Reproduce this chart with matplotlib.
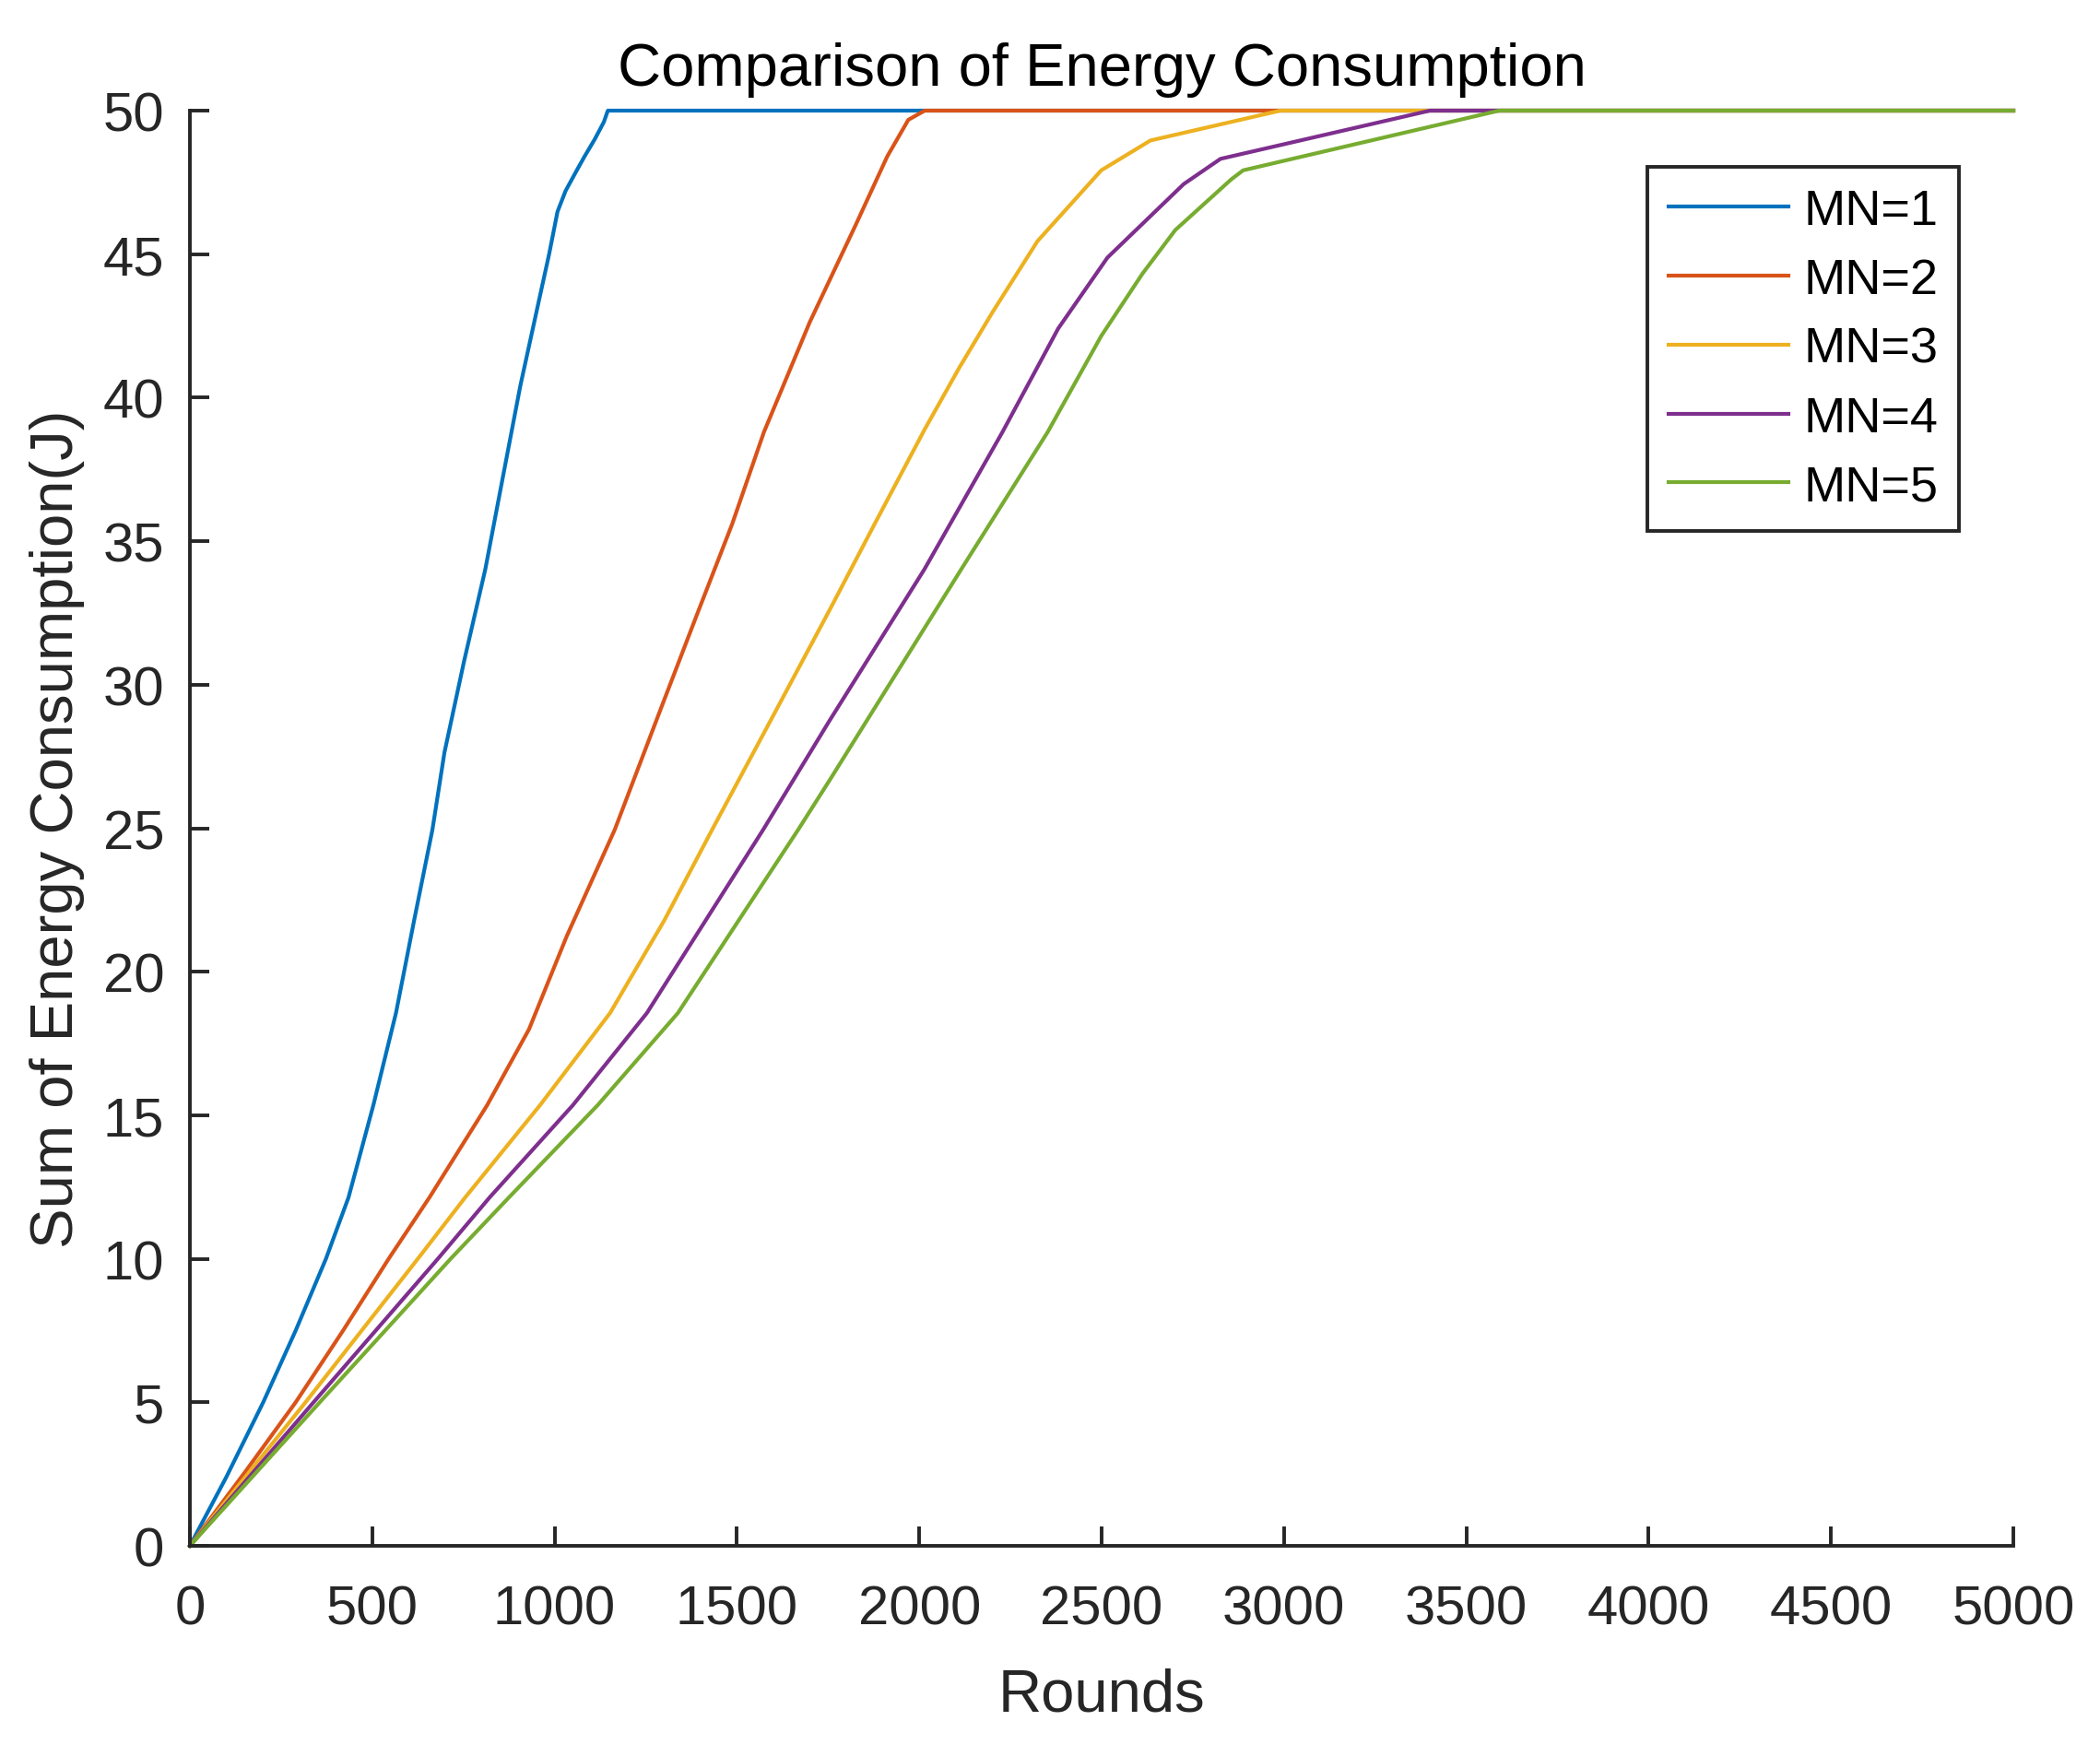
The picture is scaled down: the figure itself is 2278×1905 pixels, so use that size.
import matplotlib
matplotlib.use('Agg')
import matplotlib.pyplot as plt

plt.rcParams['font.family'] = ['Liberation Sans', 'DejaVu Sans']

# ------------------------- data -------------------------
labels = ['MN=1', 'MN=2', 'MN=3', 'MN=4', 'MN=5']
colors = ['#0072BD', '#D95319', '#EDB120', '#7E2F8E', '#77AC30']

mn1_rounds = [0, 100, 201, 290, 373, 435, 503, 565, 615, 665, 698, 752, 810, 858, 906,
              961, 985, 1008, 1030, 1060, 1082, 1110, 1135, 1146, 5000]
mn1_energy = [0, 2.4, 5, 7.5, 10, 12.14, 15.35, 18.56, 21.8, 24.95, 27.64, 30.83, 34.02, 37.22, 40.41,
              43.61, 45.0, 46.48, 47.2, 47.9, 48.4, 49.0, 49.6, 50, 50]

mn2_rounds = [0, 150, 290, 420, 545, 657, 815, 930, 1033, 1165, 1293, 1390, 1487, 1574,
              1700, 1825, 1912, 1970, 2015, 5000]
mn2_energy = [0, 2.55, 5, 7.5, 10, 12.14, 15.35, 18.0, 21.23, 24.95, 29.22, 32.43, 35.6, 38.8,
              42.64, 46.0, 48.4, 49.68, 50, 50]

mn3_rounds = [0, 317, 625, 755, 960, 1152, 1300, 1432, 1612, 1754, 1878, 2015, 2110, 2200,
              2324, 2499, 2634, 2990, 5000]
mn3_energy = [0, 5, 10, 12.14, 15.35, 18.56, 21.77, 24.95, 29.22, 32.6, 35.61, 38.9, 41.05, 42.96,
              45.45, 47.92, 48.96, 50, 50]

mn4_rounds = [0, 339, 680, 822, 1050, 1253, 1572, 1754, 2014, 2228, 2381, 2516, 2725, 2826, 3400, 5000]
mn4_energy = [0, 5, 10, 12.14, 15.35, 18.56, 24.95, 28.75, 34.02, 38.8, 42.41, 44.88, 47.44, 48.32, 50, 50]

mn5_rounds = [0, 356, 715, 875, 1118, 1338, 1668, 1754, 2115, 2352, 2499, 2612, 2702, 2855, 2888, 3590, 5000]
mn5_energy = [0, 5, 10, 12.14, 15.35, 18.56, 24.95, 26.67, 34.02, 38.8, 42.15, 44.32, 45.84, 47.6, 47.92, 50, 50]

x_ticks = list(range(0, 5001, 500))
y_ticks = list(range(0, 51, 5))

# ------------------------- plot -------------------------
fig = plt.figure(figsize=(22.78, 19.06), dpi=100)
ax = fig.add_axes([206 / 2278, 1 - 1678 / 1906, 1978 / 2278, 1557 / 1906])

series = [(mn1_rounds, mn1_energy), (mn2_rounds, mn2_energy), (mn3_rounds, mn3_energy),
          (mn4_rounds, mn4_energy), (mn5_rounds, mn5_energy)]
for (xs, ys), lab, col in zip(series, labels, colors):
    ax.plot(xs, ys, color=col, linewidth=3.0, label=lab, clip_on=False)

ax.set_xlim(0, 5000)
ax.set_ylim(0, 50)
ax.set_xticks(x_ticks)
ax.set_yticks(y_ticks)

axis_col = '#262626'
for side in ['top', 'right']:
    ax.spines[side].set_visible(False)
for side in ['left', 'bottom']:
    ax.spines[side].set_color(axis_col)
    ax.spines[side].set_linewidth(2.8)

ax.tick_params(direction='in', length=15, width=2.8, color=axis_col,
               labelcolor=axis_col, labelsize=43)
ax.tick_params(axis='x', pad=30)
ax.tick_params(axis='y', pad=20)

ax.set_title('Comparison of Energy Consumption', fontsize=47, color='black', pad=20)
ax.set_xlabel('Rounds', fontsize=47, color=axis_col, labelpad=25)
ax.set_ylabel('Sum of Energy Consumption(J)', fontsize=47, color=axis_col, labelpad=14)

leg = ax.legend(loc='upper left', bbox_to_anchor=(0.7993, 0.9608), fontsize=39,
                frameon=True, fancybox=False, handlelength=2.4, handletextpad=0.3,
                labelspacing=0.46, borderpad=0.42, borderaxespad=0)
leg.get_frame().set_edgecolor(axis_col)
leg.get_frame().set_linewidth(2.8)
leg.get_frame().set_alpha(1)
for line in leg.get_lines():
    line.set_linewidth(3.0)

fig.savefig('out.png', dpi=100, facecolor='white')
